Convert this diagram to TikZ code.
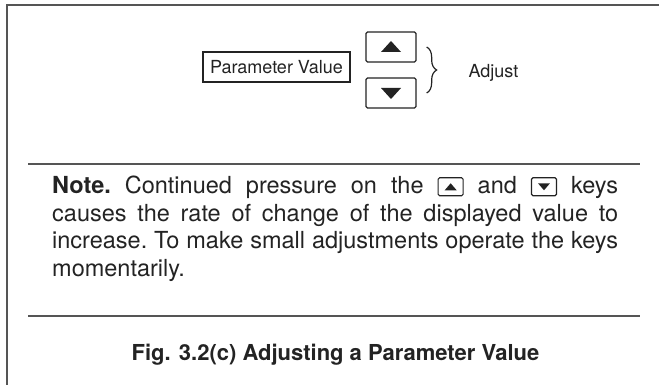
\documentclass[tikz,border=0pt]{standalone}
\usepackage{fontspec}
\setmainfont{TeX Gyre Heros}
\usetikzlibrary{decorations.pathreplacing}

\definecolor{framegray}{RGB}{85,85,85}
\definecolor{inkgray}{RGB}{35,35,35}

% small key for use inside the text
\newcommand{\smallkey}[1]{\tikz[baseline=-1pt]{\draw[line width=1.1pt,rounded corners=1.5pt] (0pt,-3pt) rectangle (25pt,15pt);
    \ifnum#1=1 \fill (6.5pt,2.5pt) -- (18.5pt,2.5pt) -- (12.5pt,9.5pt) -- cycle;
    \else \fill (6.5pt,9.5pt) -- (18.5pt,9.5pt) -- (12.5pt,2.5pt) -- cycle; \fi}}

\tikzset{
    keybox/.style={draw,line width=1.3pt,rounded corners=1.5pt,minimum width=50pt,minimum height=30pt,inner sep=0pt},
    rule/.style={framegray,line width=1.6pt},
}

\begin{document}
\begin{tikzpicture}[x=1pt,y=-1pt,inkgray]
\useasboundingbox (0,0) rectangle (659,385);

%draw frame
    \draw[framegray,line width=2pt] (6.5,385) -- (6.5,5.5) -- (659,5.5);

%draw display and keys
    \node[draw,line width=1.3pt,minimum width=147pt,minimum height=30pt,inner sep=0pt,font=\fontsize{18}{20}\selectfont] (display) at (276.5,67) {Parameter Value};
    \node[keybox] (upkey) at (391,47) {};
    \node[keybox] (downkey) at (391,93) {};
    \fill ([shift={(-10,5)}]upkey.center) -- ([shift={(10,5)}]upkey.center) -- ([shift={(0,-6)}]upkey.center) -- cycle;
    \fill ([shift={(-10,-5)}]downkey.center) -- ([shift={(10,-5)}]downkey.center) -- ([shift={(0,6)}]downkey.center) -- cycle;

%draw brace
    \node[font=\fontsize{18}{20}\selectfont] (adjust) at (493.5,73) {Adjust};
    \draw[line width=1.2pt,decorate,decoration={brace,amplitude=10pt}] ([xshift=10pt]upkey.east) -- ([xshift=10pt]downkey.east);

%draw rules
    \coordinate (ruleAl) at (28,164);
    \coordinate (ruleAr) at (640,164);
    \coordinate (ruleBl) at (28,316);
    \coordinate (ruleBr) at (640,316);
    \draw[rule] (ruleAl) -- (ruleAr);
    \draw[rule] (ruleBl) -- (ruleBr);

%draw note
    \node[anchor=north west,inner sep=0pt,text width=566pt,align=justify,font=\fontsize{23.5}{27.5}\selectfont] (note) at (52,176)
        {\frenchspacing\hyphenpenalty=10000 \textbf{Note.} Continued pressure on the \smallkey{1} and \smallkey{2} keys\linebreak causes the rate of change of the displayed value to\linebreak increase. To make small adjustments operate the keys\linebreak momentarily.};

%draw caption
    \node[font=\fontsize{22}{26}\selectfont\bfseries] (caption) at (335.5,355) {Fig. 3.2(c) Adjusting a Parameter Value};

\end{tikzpicture}
\end{document}
